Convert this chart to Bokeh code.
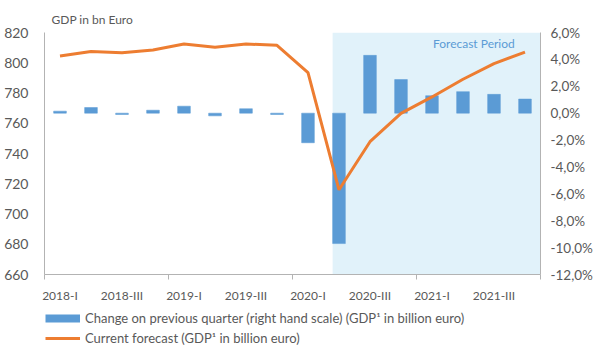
from bokeh.plotting import figure
from bokeh.layouts import column
from bokeh.models import (Range1d, LinearAxis, FixedTicker, BoxAnnotation, Label,
                          Legend, LegendItem, ColumnDataSource, Title)
from bokeh.embed import file_html
from bokeh.resources import INLINE

quarters = ["2018-I", "2018-II", "2018-III", "2018-IV",
            "2019-I", "2019-II", "2019-III", "2019-IV",
            "2020-I", "2020-II", "2020-III", "2020-IV",
            "2021-I", "2021-II", "2021-III", "2021-IV"]
gdp_bn = [804.4, 807.5, 806.6, 808.4, 812.4, 810.3, 812.4, 811.5,
          793.5, 716.0, 747.8, 766.5, 777.4, 789.1, 799.4, 807.0]
change_pct = [0.15, 0.42, -0.1, 0.22, 0.52, -0.2, 0.33, -0.1,
              -2.2, -9.7, 4.3, 2.5, 1.3, 1.6, 1.4, 1.05]
left_ticks = [660, 680, 700, 720, 740, 760, 780, 800, 820]
right_ticks = [-12, -10, -8, -6, -4, -2, 0, 2, 4, 6]
right_tick_labels = ["-12,0%", "-10,0%", "-8,0%", "-6,0%", "-4,0%",
                     "-2,0%", "0,0%", "2,0%", "4,0%", "6,0%"]
forecast_start = 9  # index of first forecast quarter (2020-II)
legend_labels = ["Change on previous quarter (right hand scale) (GDP¹ in billion euro)",
                 "Current forecast (GDP¹ in billion euro)"]

FONT = "Lato"
GREY = "#595959"
AXIS = "#B3B3B3"
BLUE = "#5B9BD5"
ORANGE = "#ED7D31"
BAR_W = 0.41

x = [i + 0.5 for i in range(len(quarters))]
src = ColumnDataSource(dict(x=x, gdp=gdp_bn, chg=change_pct))

p = figure(width=595, height=305, output_backend="svg", toolbar_location=None,
           x_range=Range1d(0, len(quarters)), y_range=Range1d(660, 820),
           min_border_left=44, min_border_right=53, min_border_top=32, min_border_bottom=30,
           x_axis_type=None, y_axis_type=None)
p.outline_line_color = None
p.background_fill_color = "white"
p.extra_y_ranges = {"pct": Range1d(-12, 6)}

# forecast shading (starts at the left edge of the first forecast bar)
p.add_layout(BoxAnnotation(left=x[forecast_start] - BAR_W / 2, fill_color="#E1F2FA",
                           fill_alpha=1.0, line_color=None, level="image"))

# title ("GDP in bn Euro")
p.add_layout(Title(text="GDP in bn Euro", align="left", offset=7, standoff=12,
                   text_font=FONT, text_font_size="12px", text_color=GREY,
                   text_font_style="normal"), "above")

# axes
xaxis = LinearAxis(ticker=FixedTicker(ticks=[x[i] for i in range(0, len(quarters), 2)],
                                      minor_ticks=list(range(0, len(quarters) + 1, 4))),
                   major_label_overrides={x[i]: quarters[i] for i in range(0, len(quarters), 2)})
xaxis.major_tick_out = 0
xaxis.major_tick_in = 0
xaxis.minor_tick_out = 5
xaxis.minor_tick_in = 0
xaxis.minor_tick_line_color = AXIS
xaxis.axis_line_color = AXIS
xaxis.major_label_text_font = FONT
xaxis.major_label_text_font_size = "12px"
xaxis.major_label_text_color = GREY
xaxis.major_label_standoff = 8
p.add_layout(xaxis, "below")

yaxis = LinearAxis(ticker=FixedTicker(ticks=left_ticks))
yaxis.major_tick_out = 0
yaxis.major_tick_in = 0
yaxis.minor_tick_line_color = None
yaxis.axis_line_color = AXIS
yaxis.major_label_text_font = FONT
yaxis.major_label_text_font_size = "14px"
yaxis.major_label_text_color = GREY
yaxis.major_label_standoff = 16
p.add_layout(yaxis, "left")

raxis = LinearAxis(y_range_name="pct", ticker=FixedTicker(ticks=right_ticks),
                   major_label_overrides=dict(zip(right_ticks, right_tick_labels)))
raxis.major_tick_out = 0
raxis.major_tick_in = 0
raxis.minor_tick_line_color = None
raxis.axis_line_color = AXIS
raxis.major_label_text_font = FONT
raxis.major_label_text_font_size = "13.5px"
raxis.major_label_text_color = GREY
raxis.major_label_standoff = 10
p.add_layout(raxis, "right")

p.ygrid.ticker = FixedTicker(ticks=left_ticks)
p.ygrid.grid_line_color = "#D9D9D9"
p.xgrid.visible = False

p.vbar(x="x", top="chg", bottom=0, width=BAR_W, source=src, y_range_name="pct",
       fill_color=BLUE, line_color=BLUE, line_width=0.5)
p.line(x="x", y="gdp", source=src, line_color=ORANGE, line_width=3)

p.add_layout(Label(x=13.85, y=812.8, text="Forecast Period", text_font=FONT,
                   text_font_size="12px", text_color=BLUE, text_baseline="middle",
                   text_align="center"))

# legend strip below the chart (legend swatches only; no data shown here)
lf = figure(width=595, height=41, output_backend="svg", toolbar_location=None,
            x_range=Range1d(0, 1), y_range=Range1d(0, 1),
            min_border=0, x_axis_type=None, y_axis_type=None)
lf.outline_line_color = None
lf.xgrid.visible = False
lf.ygrid.visible = False
dummy = ColumnDataSource(dict(x=[-5.0, -4.0], y=[0.5, 0.5]))
lb = lf.line(x="x", y="y", source=dummy, line_color=BLUE, line_width=8, line_cap="butt")
ll = lf.line(x="x", y="y", source=dummy, line_color=ORANGE, line_width=3)
legend = Legend(items=[LegendItem(label=legend_labels[0], renderers=[lb]),
                       LegendItem(label=legend_labels[1], renderers=[ll])],
                location=(1, 0), orientation="vertical", padding=0, margin=0,
                glyph_width=35, glyph_height=12, label_height=14, spacing=4, label_standoff=5,
                label_text_font=FONT, label_text_font_size="13px", label_text_color=GREY,
                border_line_color=None, background_fill_alpha=0)
lf.add_layout(legend, "center")

open("out.html", "w").write(file_html(column(p, lf, spacing=0), INLINE))
